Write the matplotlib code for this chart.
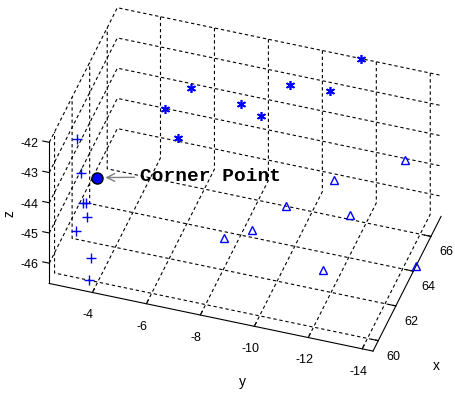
import numpy as np
import matplotlib
matplotlib.use('Agg')
import matplotlib.pyplot as plt
from mpl_toolkits.mplot3d import proj3d

# points (x, y, z)
plus_x = [60.2, 60.2, 60.2, 60.2, 60.2, 62.3, 60.2, 59.4]
plus_y = [-3.17, -3.32, -3.40, -3.51, -3.55, -2.45, -3.69, -3.89]
plus_z = [-42.19, -43.29, -44.27, -44.25, -44.71, -46.58, -46.04, -46.29]

star_x = [67.15, 64.26, 65.47, 65.59, 62.84, 63.97, 63.52, 61.50]
star_y = [-11.44, -6.09, -9.36, -10.78, -5.56, -8.01, -8.90, -6.49]
star_z = [-42.0, -42.3, -42.3, -42.3, -42.3, -42.3, -42.3, -42.3]

tri_x = [66.42, 65.25, 64.33, 64.56, 63.67, 63.06, 62.80, 64.31]
tri_y = [-13.29, -11.04, -9.56, -11.86, -8.52, -7.68, -11.45, -14.4]
tri_z = [-44.6, -45.0, -45.6, -45.6, -46.2, -46.3, -46.5, -46.67]

corner_x, corner_y, corner_z = 60.6, -3.78, -43.60

x_ticks = [60, 62, 64, 66]
y_ticks = [-4, -6, -8, -10, -12, -14]
z_ticks = [-42, -43, -44, -45, -46]

plt.rcParams['font.family'] = ['Liberation Sans', 'DejaVu Sans']
plt.rcParams['axes.unicode_minus'] = False

fig = plt.figure(figsize=(4.56, 3.93), dpi=100)
ax = fig.add_axes([0.026, 0.03, 1.0, 1.0], projection='3d', proj_type='ortho')
ax.view_init(elev=40, azim=-162)
ax.set_box_aspect((220, 340, 184), zoom=1.1)

ax.plot(plus_x, plus_y, plus_z, linestyle='none', marker='+', color='blue',
        markersize=7, markeredgewidth=1.0)
ax.plot(star_x, star_y, star_z, linestyle='none', marker=(6, 2, 0), color='blue',
        markersize=6.5, markeredgewidth=1.2)
ax.plot(tri_x, tri_y, tri_z, linestyle='none', marker='^', color='blue',
        markerfacecolor='none', markersize=6, markeredgewidth=1.0)
ax.plot([corner_x], [corner_y], [corner_z], linestyle='none', marker='o',
        markerfacecolor='blue', markeredgecolor='black', markersize=8)

ax.set_xlim(59.4, 67.15)
ax.set_ylim(-14.4, -2.4)
ax.set_zlim(-46.67, -42.0)
ax.set_xticks(x_ticks)
ax.set_yticks(y_ticks)
ax.set_zticks(z_ticks)
ax.tick_params(labelsize=9, pad=0)
ax.yaxis.set_tick_params(pad=1)
ax.xaxis.set_tick_params(pad=-1)
ax.zaxis.set_tick_params(pad=1)
# z ticks and their labels go sideways along y, like in matlab
ax.zaxis._get_tickdir = lambda position='default': 1
ax.zaxis._axmask = lambda: [False, True, False]

for axis in (ax.xaxis, ax.yaxis, ax.zaxis):
    axis.set_pane_color((1, 1, 1, 0))
    axis.line.set_color('black')
    axis.line.set_linewidth(0.8)
    axis._axinfo['grid'].update(color='black', linewidth=0.8, linestyle=(0, (3, 2.5)))
    axis._axinfo['tick']['inward_factor'] = 0.0
    axis._axinfo['tick']['outward_factor'] = 0.25
ax.yaxis._axinfo['tick']['outward_factor'] = 0.35

# axis names, placed where matlab put them
fig.text(242 / 456, 1 - 382 / 393, 'y', fontsize=10, ha='center', va='center')
fig.text(436 / 456, 1 - 366 / 393, 'x', fontsize=10, ha='center', va='center')
fig.text(10 / 456, 1 - 214 / 393, 'z', fontsize=10, ha='center', va='center', rotation=90)

# arrow to the corner point
M = ax.get_proj()
px, py, _ = proj3d.proj_transform(corner_x, corner_y, corner_z, M)
ax.annotate('Corner Point', xy=(px, py), xytext=(43, 1), textcoords='offset pixels',
            fontsize=14, fontweight='bold', family='Liberation Mono', va='center',
            arrowprops=dict(arrowstyle='->', color='0.5', lw=1.0, shrinkA=2, shrinkB=6))

fig.savefig('out.png', dpi=100)
